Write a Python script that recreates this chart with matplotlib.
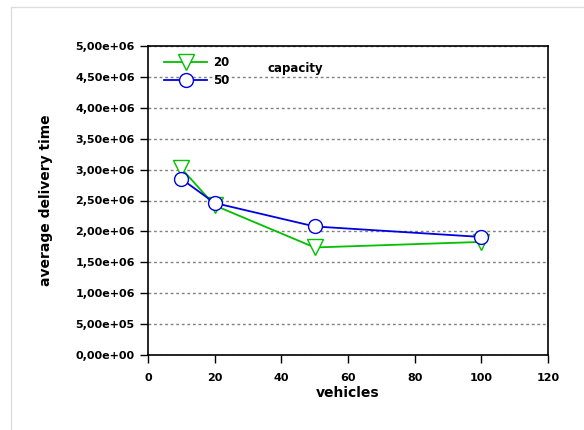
import matplotlib.pyplot as plt
from matplotlib.patches import Rectangle
from matplotlib.ticker import FuncFormatter

# data
vehicles = [10, 20, 50, 100]
cap20 = [3.02e6, 2.42e6, 1.74e6, 1.83e6]
cap50 = [2.85e6, 2.46e6, 2.08e6, 1.91e6]
series_labels = ['20', '50']
x_ticks = [0, 20, 40, 60, 80, 100, 120]
y_ticks = [i * 5e5 for i in range(11)]


def sci_comma(v, pos):
    return ('%.2e' % v).replace('.', ',')


fig = plt.figure(figsize=(5.84, 4.30), dpi=100)
fig.patches.append(Rectangle((11 / 584, -0.1), 1.2, (430 - 7) / 430 + 0.1,
                             transform=fig.transFigure, fill=False,
                             edgecolor='#dddddd', linewidth=1))
ax = fig.add_axes([148 / 584, 75 / 430, 400 / 584, 309 / 430])

ax.plot(vehicles, cap20, color='#00c000', linewidth=1.3, marker='v', markersize=12,
        markerfacecolor='white', markeredgecolor='#00c000', markeredgewidth=1,
        label=series_labels[0])
ax.plot(vehicles, cap50, color='#0000e0', linewidth=1.3, marker='o', markersize=10,
        markerfacecolor='white', markeredgecolor='#0000e0', markeredgewidth=1,
        label=series_labels[1])

ax.set_xlim(0, 120)
ax.set_ylim(0, 5e6)
ax.set_xticks(x_ticks)
ax.set_yticks(y_ticks)
ax.yaxis.set_major_formatter(FuncFormatter(sci_comma))
ax.yaxis.grid(True, linestyle=(0, (2, 2)), color='#808080', linewidth=1)
ax.set_axisbelow(True)
ax.tick_params(direction='out', length=6, width=1, labelsize=8)
ax.tick_params(axis='x', pad=7)
for lab in ax.get_xticklabels() + ax.get_yticklabels():
    lab.set_fontweight('bold')
for s in ax.spines.values():
    s.set_linewidth(1.2)

ax.set_xlabel('vehicles', fontsize=10, fontweight='bold', labelpad=2)
ax.set_ylabel('average delivery time', fontsize=10, fontweight='bold', labelpad=16)

leg = ax.legend(loc='upper left', bbox_to_anchor=(0.02, 0.995), frameon=False,
                prop={'size': 8.5, 'weight': 'bold'}, handlelength=3.6,
                labelspacing=0.45, handletextpad=0.5, borderaxespad=0.3)
ax.text(0.3, 0.928, 'capacity', transform=ax.transAxes, fontsize=8.5,
        fontweight='bold', va='center', ha='left')

fig.savefig('out.png', dpi=100)
